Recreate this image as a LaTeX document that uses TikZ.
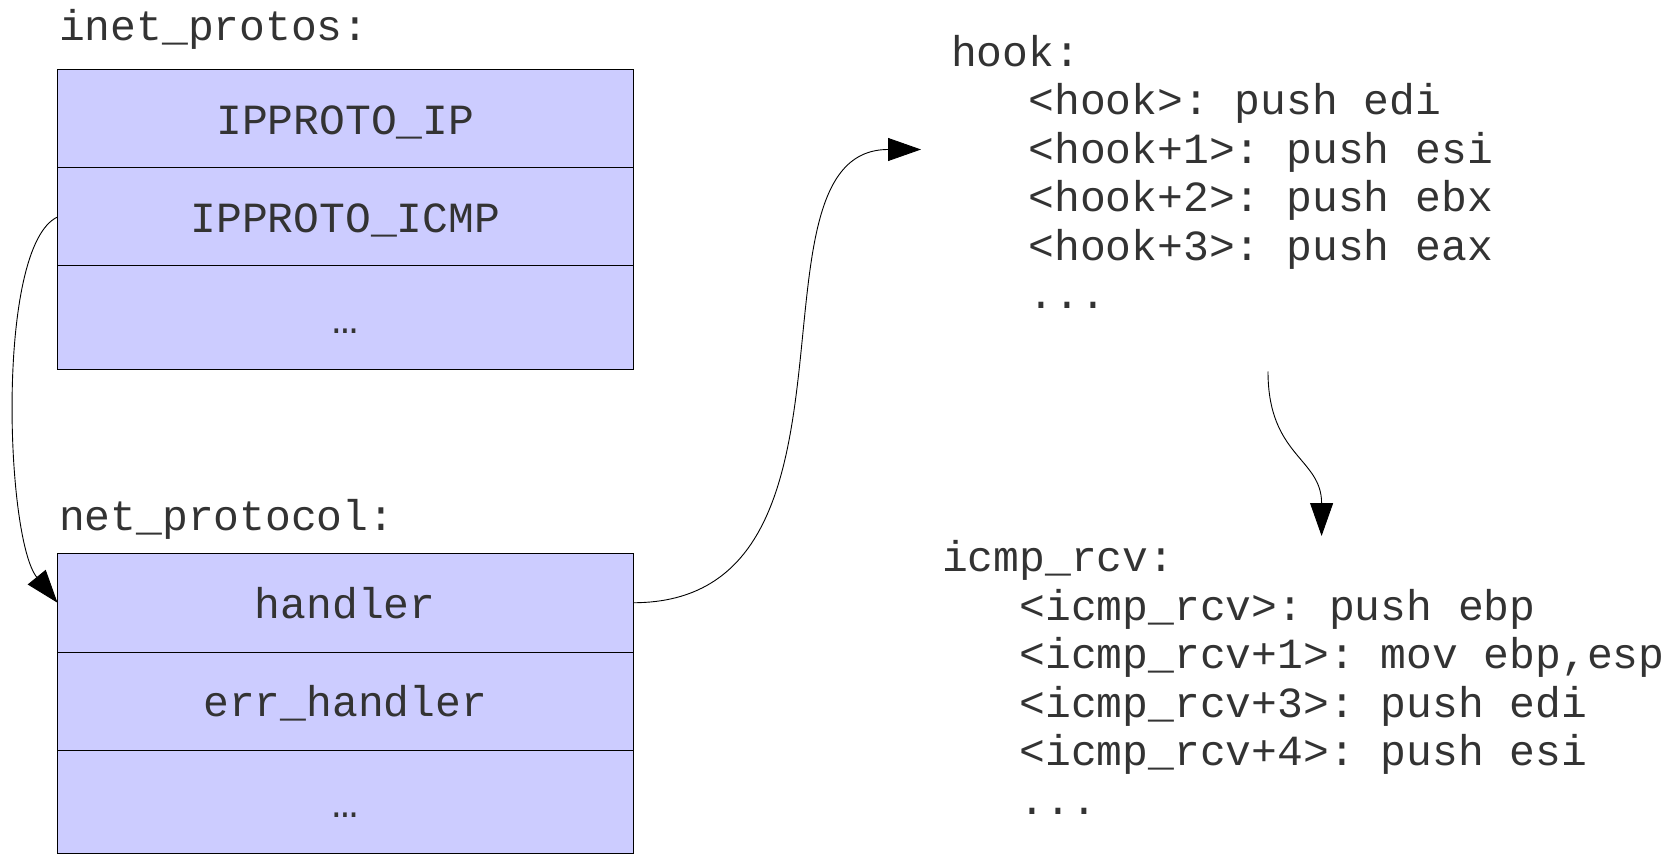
\documentclass[tikz,border=0pt]{standalone}
\usepackage{fontspec}
\newfontfamily\codefont{Liberation Mono}
\usetikzlibrary{arrows.meta}
\definecolor{cellfill}{RGB}{204,204,255}
\definecolor{ink}{RGB}{51,51,51}
\frenchspacing
\begin{document}
\begin{tikzpicture}[x=1pt,y=-1pt,
  every node/.style={font=\codefont\fontsize{43}{48.5}\selectfont, text=ink, inner sep=0pt, outer sep=0pt},
  cell/.style={draw=black, line width=1pt, fill=cellfill, minimum width=575.5pt, text height=35pt, text depth=4pt},
  txt/.style={anchor=base west},
  link/.style={draw=black, line width=0.9pt, -{Triangle[length=33pt,width=23pt]}}]
\useasboundingbox (0,0) rectangle (1674,858);

% inet_protos table
\node[txt] (protoslbl) at (59,40.5) {inet\_protos:};
\node[cell, minimum height=98.5pt] (ipip)   at (345.25,118.75) {IPPROTO\_IP};
\node[cell, minimum height=98pt]   (ipicmp) at (345.25,217)    {IPPROTO\_ICMP};
\node[cell, minimum height=103.5pt](ipmore) at (345.25,317.75) {…};

% net_protocol structure
\node[txt] (protolbl) at (59,530) {net\_protocol:};
\node[cell, minimum height=98.5pt] (handler) at (345.25,602.75) {handler};
\node[cell, minimum height=98pt]   (errh)    at (345.25,701)    {err\_handler};
\node[cell, minimum height=103.3pt](npmore)  at (345.25,801.65) {…};

% hook listing
\node[txt] (hooklbl) at (951,66.7)  {hook:};
\node[txt] (hk0) at (1028.4,115)    {<hook>: push edi};
\node[txt] (hk1) at (1028.4,163.4)  {<hook+1>: push esi};
\node[txt] (hk2) at (1028.4,211.8)  {<hook+2>: push ebx};
\node[txt] (hk3) at (1028.4,260.2)  {<hook+3>: push eax};
\node[txt] (hk4) at (1028.4,308.6)  {...};

% icmp_rcv listing
\node[txt] (icmplbl) at (942,571.7) {icmp\_rcv:};
\node[txt] (ic0) at (1019.4,620.2)  {<icmp\_rcv>: push ebp};
\node[txt] (ic1) at (1019.4,668.7)  {<icmp\_rcv+1>: mov ebp,esp};
\node[txt] (ic2) at (1019.4,717.2)  {<icmp\_rcv+3>: push edi};
\node[txt] (ic3) at (1019.4,765.7)  {<icmp\_rcv+4>: push esi};
\node[txt] (ic4) at (1019.4,814.2)  {...};

% connector end points
\coordinate (hookin)  at (921,149.5);
\coordinate (hookout) at (1268,371.5);
\coordinate (icmpin)  at (1321.6,536);

% connectors
\draw[link] (ipicmp.west) .. controls +(-62,29) and +(-52,-64) .. (handler.west);
\draw[link] (handler.east) .. controls +(254,0) and +(-186,0) .. (hookin);
\draw[link] (hookout) .. controls +(0,85) and +(0,-78) .. (icmpin);
\end{tikzpicture}
\end{document}
